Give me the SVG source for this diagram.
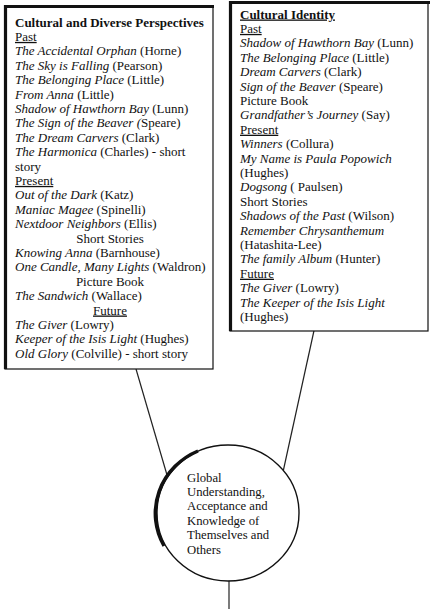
<svg xmlns="http://www.w3.org/2000/svg" width="430" height="609" viewBox="0 0 430 609">
<style>
text{font-family:"Liberation Serif","Times New Roman",serif;font-size:13px;fill:#111}
.b{font-weight:bold}
.u{text-decoration:underline}
.i{font-style:italic}
.c{text-anchor:middle}
.ct{font-size:12.7px}
.thin{fill:#fff;stroke:#111;stroke-width:1.2}
.thick{stroke:#111;stroke-width:3.2;fill:none}
.ln{stroke:#222;stroke-width:1.2;fill:none}
</style>
<rect width="430" height="609" fill="#fff"/>
<g id="connectors">
<line class="ln" x1="136" y1="369" x2="167" y2="475"/>
<line class="ln" x1="315" y1="326" x2="283" y2="472"/>
<line class="ln" x1="229" y1="580" x2="229" y2="609"/>
</g>
<g id="box-cultural-diverse">
<rect class="thin" x="5" y="6" width="208" height="363"/>
<path class="thick" d="M5.5 369 V6.5 H214"/>
<text x="15" y="26.5" class="b">Cultural and Diverse Perspectives</text>
<text x="15" y="40.9" class="u">Past</text>
<text x="15" y="55.3"><tspan class="i">The Accidental Orphan</tspan> (Horne)</text>
<text x="15" y="69.7"><tspan class="i">The Sky is Falling</tspan> (Pearson)</text>
<text x="15" y="84.1"><tspan class="i">The Belonging Place</tspan> (Little)</text>
<text x="15" y="98.5"><tspan class="i">From Anna</tspan> (Little)</text>
<text x="15" y="112.9"><tspan class="i">Shadow of Hawthorn Bay</tspan>  (Lunn)</text>
<text x="15" y="127.3"><tspan class="i">The Sign of the Beaver (</tspan>Speare)</text>
<text x="15" y="141.7"><tspan class="i">The Dream Carvers</tspan> (Clark)</text>
<text x="15" y="156.1"><tspan class="i">The Harmonica</tspan> (Charles) - short</text>
<text x="15" y="170.5">story</text>
<text x="15" y="184.9" class="u">Present</text>
<text x="15" y="199.3"><tspan class="i">Out of the Dark</tspan> (Katz)</text>
<text x="15" y="213.7"><tspan class="i">Maniac Magee</tspan> (Spinelli)</text>
<text x="15" y="228.1"><tspan class="i">Nextdoor Neighbors</tspan> (Ellis)</text>
<text x="110" y="242.5" class="c">Short Stories</text>
<text x="15" y="256.9"><tspan class="i">Knowing Anna</tspan> (Barnhouse)</text>
<text x="15" y="271.3"><tspan class="i">One Candle, Many Lights</tspan> (Waldron)</text>
<text x="110" y="285.7" class="c">Picture Book</text>
<text x="15" y="300.1"><tspan class="i">The Sandwich</tspan> (Wallace)</text>
<text x="110" y="314.5" class="c u">Future</text>
<text x="15" y="328.9"><tspan class="i">The Giver</tspan> (Lowry)</text>
<text x="15" y="343.3"><tspan class="i">Keeper of the Isis Light</tspan> (Hughes)</text>
<text x="15" y="357.7"><tspan class="i">Old Glory</tspan> (Colville) - short story</text>
</g>
<g id="box-cultural-identity">
<rect class="thin" x="230" y="2" width="198" height="329"/>
<path class="thick" d="M230.5 331 V2.5 H430"/>
<text x="240" y="18.5" class="b u">Cultural Identity</text>
<text x="240" y="32.9" class="u">Past</text>
<text x="240" y="47.3"><tspan class="i">Shadow of Hawthorn Bay</tspan> (Lunn)</text>
<text x="240" y="61.7"><tspan class="i">The Belonging Place</tspan> (Little)</text>
<text x="240" y="76.1"><tspan class="i">Dream Carvers</tspan> (Clark)</text>
<text x="240" y="90.5"><tspan class="i">Sign of the Beaver</tspan> (Speare)</text>
<text x="240" y="104.9">Picture Book</text>
<text x="240" y="119.3"><tspan class="i">Grandfather’s Journey</tspan> (Say)</text>
<text x="240" y="133.7" class="u">Present</text>
<text x="240" y="148.1"><tspan class="i">Winners</tspan> (Collura)</text>
<text x="240" y="162.5" class="i">My Name is Paula Popowich</text>
<text x="240" y="176.9">(Hughes)</text>
<text x="240" y="191.3"><tspan class="i">Dogsong</tspan> ( Paulsen)</text>
<text x="240" y="205.7">Short Stories</text>
<text x="240" y="220.1"><tspan class="i">Shadows of the Past</tspan> (Wilson)</text>
<text x="240" y="234.5" class="i">Remember Chrysanthemum</text>
<text x="240" y="248.9">(Hatashita-Lee)</text>
<text x="240" y="263.3"><tspan class="i">The family Album</tspan> (Hunter)</text>
<text x="240" y="277.7" class="u">Future</text>
<text x="240" y="292.1"><tspan class="i">The Giver</tspan> (Lowry)</text>
<text x="240" y="306.5" class="i">The Keeper of the Isis Light</text>
<text x="240" y="320.9">(Hughes)</text>
</g>
<g id="circle-global">
<ellipse cx="228" cy="513" rx="71" ry="68" fill="#fff" stroke="#111" stroke-width="1.4"/>
<path d="M198 451 A71 68 0 0 0 164 546" fill="none" stroke="#111" stroke-width="3.4"/>
<text x="187" y="481.5" class="ct">Global</text>
<text x="187" y="495.9" class="ct">Understanding,</text>
<text x="187" y="510.3" class="ct">Acceptance and</text>
<text x="187" y="524.7" class="ct">Knowledge of</text>
<text x="187" y="539.1" class="ct">Themselves and</text>
<text x="187" y="553.5" class="ct">Others</text>
</g>
</svg>
